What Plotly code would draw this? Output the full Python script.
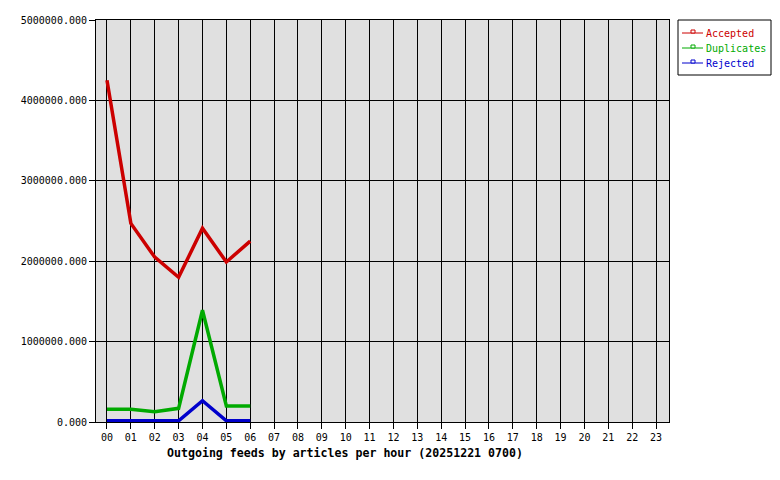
import plotly.graph_objects as go

hours = ["00","01","02","03","04","05","06","07","08","09","10","11",
         "12","13","14","15","16","17","18","19","20","21","22","23"]
hour_pos = list(range(24))
data_hours = [0, 1, 2, 3, 4, 5, 6]

accepted = [4250000, 2470000, 2050000, 1800000, 2410000, 1990000, 2250000]
duplicates = [158000, 158000, 128000, 170000, 1390000, 200000, 200000]
rejected = [15000, 15000, 15000, 15000, 265000, 15000, 15000]

y_ticks = [0, 1000000, 2000000, 3000000, 4000000, 5000000]
y_labels = ["0.000", "1000000.000", "2000000.000", "3000000.000", "4000000.000", "5000000.000"]

series_names = ["Accepted", "Duplicates", "Rejected"]
series_values = [accepted, duplicates, rejected]
series_colors = ["#cc0000", "#00aa00", "#0000cc"]

font = "DejaVu Sans Mono, Liberation Mono, monospace"

# page layout (pixels in the 780x480 window; the page body adds an 8px offset)
PLOT_L, PLOT_R, PLOT_T, PLOT_B = 96, 669, 20, 422


def px(x):
    return (x - PLOT_L) / (PLOT_R - PLOT_L)


def py(y):
    return (PLOT_B - y) / (PLOT_B - PLOT_T)


fig = go.Figure()
for name, vals, col in zip(series_names, series_values, series_colors):
    fig.add_trace(go.Scatter(x=data_hours, y=vals, mode="lines", name=name,
                             line=dict(color=col, width=3.5),
                             showlegend=False, hoverinfo="skip"))

# hand-built legend (plotly's own legend is too wide for the space)
shapes = [dict(type="rect", xref="paper", yref="paper",
               x0=px(678), x1=px(771), y0=py(75), y1=py(20),
               line=dict(color="black", width=1), fillcolor="white", layer="above")]
annotations = []
for i, (name, col) in enumerate(zip(series_names, series_colors)):
    yy = 33 + 15 * i
    shapes.append(dict(type="line", xref="paper", yref="paper",
                       x0=px(682), x1=px(703), y0=py(yy), y1=py(yy),
                       line=dict(color=col, width=1), layer="above"))
    shapes.append(dict(type="rect", xref="paper", yref="paper",
                       x0=px(691), x1=px(695), y0=py(yy), y1=py(yy - 3),
                       line=dict(color=col, width=1), fillcolor="white", layer="above"))
    annotations.append(dict(text=name, xref="paper", yref="paper",
                            x=px(704), y=py(yy), xanchor="left", yanchor="middle",
                            showarrow=False, font=dict(family=font, size=10, color=col)))

annotations.append(dict(text="<b>Outgoing feeds by articles per hour (20251221 0700)</b>",
                        xref="paper", yref="paper", x=px(165), y=0,
                        xanchor="left", yanchor="top", yshift=-22, showarrow=False,
                        font=dict(family=font, size=11.6, color="black")))

fig.update_layout(
    width=772, height=472,
    margin=dict(l=88, r=111, t=12, b=58, autoexpand=False),
    paper_bgcolor="white", plot_bgcolor="#e0e0e0",
    font=dict(family=font, size=10, color="black"),
    showlegend=False,
    xaxis=dict(range=[-0.46, 23.54], tickvals=hour_pos, ticktext=hours,
               showgrid=True, gridcolor="black", gridwidth=1,
               ticks="outside", ticklen=6, tickcolor="black",
               showline=True, linecolor="black", linewidth=1, mirror=True,
               zeroline=False, fixedrange=True, automargin=False),
    yaxis=dict(range=[0, 5000000], tickvals=y_ticks, ticktext=y_labels,
               showgrid=True, gridcolor="black", gridwidth=1,
               ticks="outside", ticklen=6, tickcolor="black",
               showline=True, linecolor="black", linewidth=1, mirror=True,
               zeroline=False, fixedrange=True, automargin=False),
    shapes=shapes,
    annotations=annotations,
)

fig.write_html("out.html")
